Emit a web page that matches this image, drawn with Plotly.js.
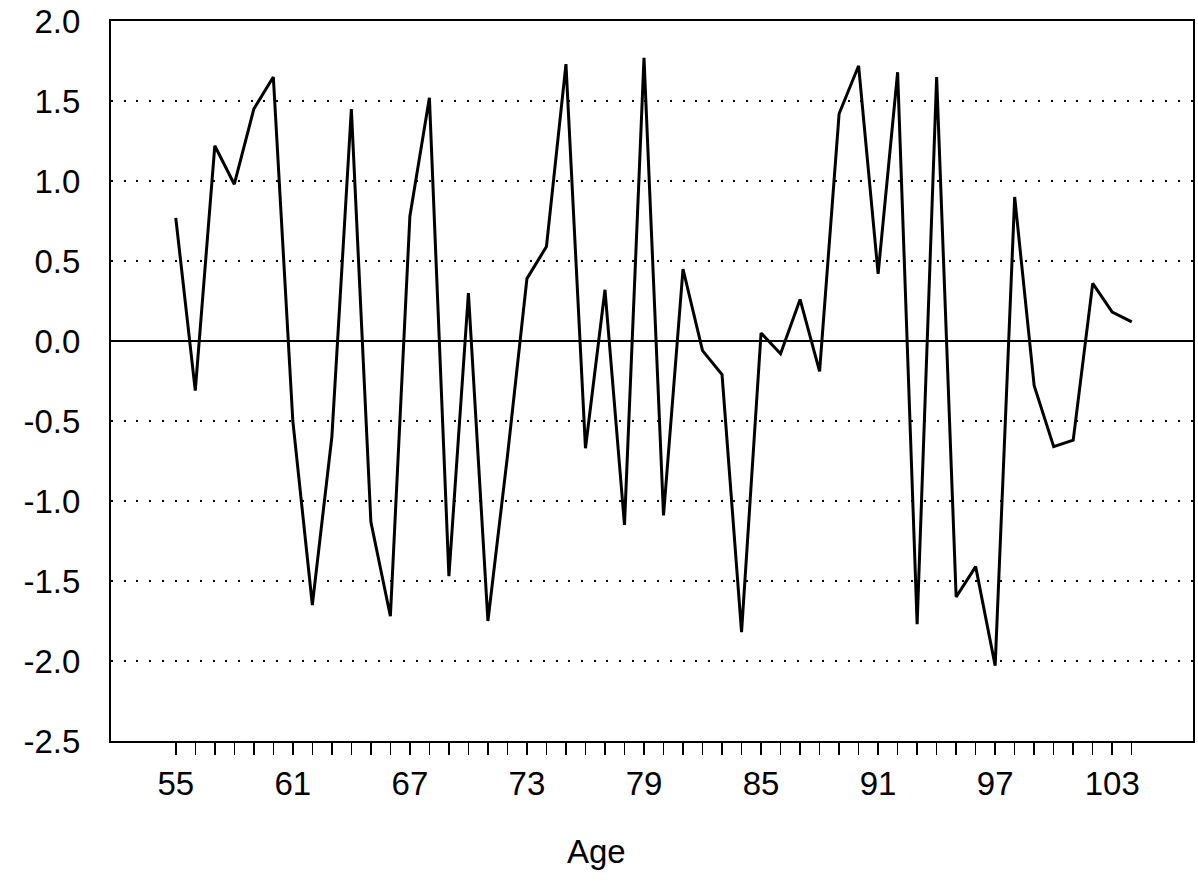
<!DOCTYPE html>
<html>
<head>
<meta charset="utf-8">
<script src="https://cdn.plot.ly/plotly-3.0.1.min.js"></script>
<style>
  html, body { margin: 0; padding: 0; background: #ffffff; }
  #chart { width: 1198px; height: 882px; }
</style>
</head>
<body>
<div id="chart"></div>
<script>
// Age (years) and plotted values
const ages = [55,56,57,58,59,60,61,62,63,64,65,66,67,68,69,70,71,72,73,74,
              75,76,77,78,79,80,81,82,83,84,85,86,87,88,89,90,91,92,93,94,
              95,96,97,98,99,100,101,102,103,104];
const values = [0.77,-0.31,1.22,0.98,1.45,1.65,-0.50,-1.65,-0.60,1.45,
                -1.13,-1.72,0.78,1.52,-1.47,0.30,-1.75,-0.72,0.39,0.59,
                1.73,-0.67,0.32,-1.15,1.77,-1.09,0.45,-0.06,-0.21,-1.82,
                0.05,-0.08,0.26,-0.19,1.42,1.72,0.42,1.68,-1.77,1.65,
                -1.60,-1.41,-2.03,0.90,-0.28,-0.66,-0.62,0.36,0.18,0.12];

const xLabelAges = [55,61,67,73,79,85,91,97,103];
const yTickVals = [2.0,1.5,1.0,0.5,0.0,-0.5,-1.0,-1.5,-2.0,-2.5];
const yTickText = ["2.0","1.5","1.0","0.5","0.0","-0.5","-1.0","-1.5","-2.0","-2.5"];
const xTitle = "Age";

const xTickText = ages.map(a => xLabelAges.includes(a) ? String(a) : "");

const fontFam = "Liberation Sans, Arial, sans-serif";

const trace = {
  x: ages,
  y: values,
  type: "scatter",
  mode: "lines",
  line: { color: "#000000", width: 3 },
  hoverinfo: "x+y",
  showlegend: false
};

const layout = {
  width: 1198,
  height: 882,
  margin: { l: 111, r: 5, t: 21, b: 141 },
  paper_bgcolor: "#ffffff",
  plot_bgcolor: "#ffffff",
  font: { family: fontFam, color: "#000000", size: 33 },
  xaxis: {
    range: [51.68, 107.14],
    tickmode: "array",
    tickvals: ages,
    ticktext: xTickText,
    ticks: "outside",
    ticklen: 12,
    tickwidth: 1.5,
    tickcolor: "#000000",
    ticklabelstandoff: 0,
    showgrid: false,
    zeroline: false,
    showline: true,
    linecolor: "#000000",
    linewidth: 2,
    mirror: true,
    tickfont: { family: fontFam, size: 33, color: "#000000" }
  },
  yaxis: {
    range: [-2.5, 2.0],
    tickmode: "array",
    tickvals: yTickVals,
    ticktext: yTickText,
    ticks: "",
    ticklabelstandoff: 22,
    showgrid: true,
    gridcolor: "#000000",
    gridwidth: 1.6,
    griddash: "2px,10.7px",
    zeroline: true,
    zerolinecolor: "#000000",
    zerolinewidth: 1.6,
    showline: true,
    linecolor: "#000000",
    linewidth: 2,
    mirror: true,
    tickfont: { family: fontFam, size: 33, color: "#000000" }
  },
  annotations: [{
    text: xTitle,
    xref: "paper", yref: "paper",
    x: 0.449, y: -0.154,
    xanchor: "center", yanchor: "middle",
    showarrow: false,
    font: { family: fontFam, size: 33, color: "#000000" }
  }]
};

Plotly.newPlot("chart", [trace], layout, { displayModeBar: false, staticPlot: true });
</script>
</body>
</html>
